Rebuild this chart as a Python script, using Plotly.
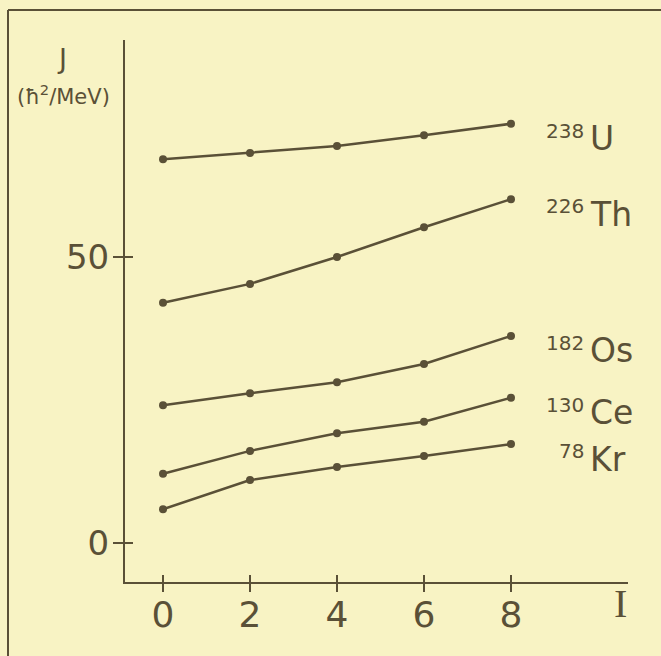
import plotly.graph_objects as go

# ---- data ----
spin_I = [0, 2, 4, 6, 8]
J_U238 = [67.1, 68.2, 69.4, 71.3, 73.3]
J_Th226 = [42.0, 45.3, 50.0, 55.2, 60.1]
J_Os182 = [24.1, 26.2, 28.1, 31.3, 36.2]
J_Ce130 = [12.1, 16.1, 19.2, 21.2, 25.4]
J_Kr78 = [5.9, 11.0, 13.3, 15.2, 17.3]

mass_numbers = ["238", "226", "182", "130", "78"]
symbols = ["U", "Th", "Os", "Ce", "Kr"]
series = [J_U238, J_Th226, J_Os182, J_Ce130, J_Kr78]

x_ticks = [0, 2, 4, 6, 8]
y_ticks = [0, 50]

INK = "#5a5037"
BG = "#f8f3c4"
SANS = "DejaVu Sans"

W, H = 661, 656
ml, mr, mt, mb = 125, 33, 40, 74
PW, PH = W - ml - mr, H - mt - mb


def px(x):
    return (x - ml) / PW


def py(y):
    return (H - mb - y) / PH


fig = go.Figure()
for ys in series:
    fig.add_trace(go.Scatter(
        x=spin_I, y=ys, mode="lines+markers",
        line=dict(color=INK, width=2.5),
        marker=dict(color=INK, size=8),
        showlegend=False, hoverinfo="skip"))

xr = [-0.874, 10.69]
yr = [-6.82, 87.94]

fig.update_layout(
    width=W, height=H,
    margin=dict(l=ml, r=mr, t=mt, b=mb, pad=0),
    paper_bgcolor=BG, plot_bgcolor=BG,
    xaxis=dict(range=xr, showgrid=False, zeroline=False,
               showline=True, linecolor=INK, linewidth=2,
               tickmode="array", tickvals=x_ticks,
               ticktext=[str(v) for v in x_ticks],
               ticks="outside", ticklen=8, tickwidth=2, tickcolor=INK,
               ticklabelstandoff=-8,
               tickfont=dict(family=SANS, size=36, color=INK)),
    yaxis=dict(range=yr, showgrid=False, zeroline=False,
               showline=True, linecolor=INK, linewidth=2,
               tickmode="array", tickvals=y_ticks,
               ticktext=[str(v) for v in y_ticks],
               ticks="outside", ticklen=10, tickwidth=2, tickcolor=INK,
               ticklabelstandoff=-3,
               tickfont=dict(family=SANS, size=34, color=INK)),
)

# inner halves of the crossing tick marks
for v in x_ticks:
    fig.add_shape(type="line", xref="x", yref="paper", x0=v, x1=v,
                  y0=py(582), y1=py(575), line=dict(color=INK, width=2))
for v in y_ticks:
    fig.add_shape(type="line", xref="paper", yref="y", x0=px(125), x1=px(133),
                  y0=v, y1=v, line=dict(color=INK, width=2))

# isotope labels
for mn, sym, ys in zip(mass_numbers, symbols, series):
    fig.add_annotation(x=spin_I[-1], y=ys[-1], xref="x", yref="y",
                       text=mn, showarrow=False, xanchor="right", yanchor="middle",
                       xshift=75, yshift=-7,
                       font=dict(family=SANS, size=20, color=INK))
    fig.add_annotation(x=spin_I[-1], y=ys[-1], xref="x", yref="y",
                       text=sym, showarrow=False, xanchor="left", yanchor="middle",
                       xshift=77, yshift=-15,
                       font=dict(family=SANS, size=33, color=INK))

# axis titles
fig.add_annotation(x=px(62), y=py(58), xref="paper", yref="paper",
                   text="J", showarrow=False, xanchor="center", yanchor="middle",
                   font=dict(family=SANS, size=27, color=INK))
fig.add_annotation(x=px(63), y=py(95), xref="paper", yref="paper",
                   text="(ħ<sup>2</sup>/MeV)", showarrow=False,
                   xanchor="center", yanchor="middle",
                   font=dict(family=SANS, size=21, color=INK))
fig.add_annotation(x=px(620), y=py(604), xref="paper", yref="paper",
                   text="I", showarrow=False, xanchor="center", yanchor="middle",
                   font=dict(family="Liberation Serif", size=40, color=INK))

# scanned frame (left and top edges)
fig.add_shape(type="line", xref="paper", yref="paper",
              x0=px(8), x1=px(8), y0=py(H + 5), y1=py(10),
              line=dict(color=INK, width=2))
fig.add_shape(type="line", xref="paper", yref="paper",
              x0=px(8), x1=px(W + 5), y0=py(10), y1=py(10),
              line=dict(color=INK, width=2))

fig.write_html("out.html",
               config={"displayModeBar": False},
               post_script="document.body.style.margin='0';"
                           "document.body.style.overflow='hidden';")
